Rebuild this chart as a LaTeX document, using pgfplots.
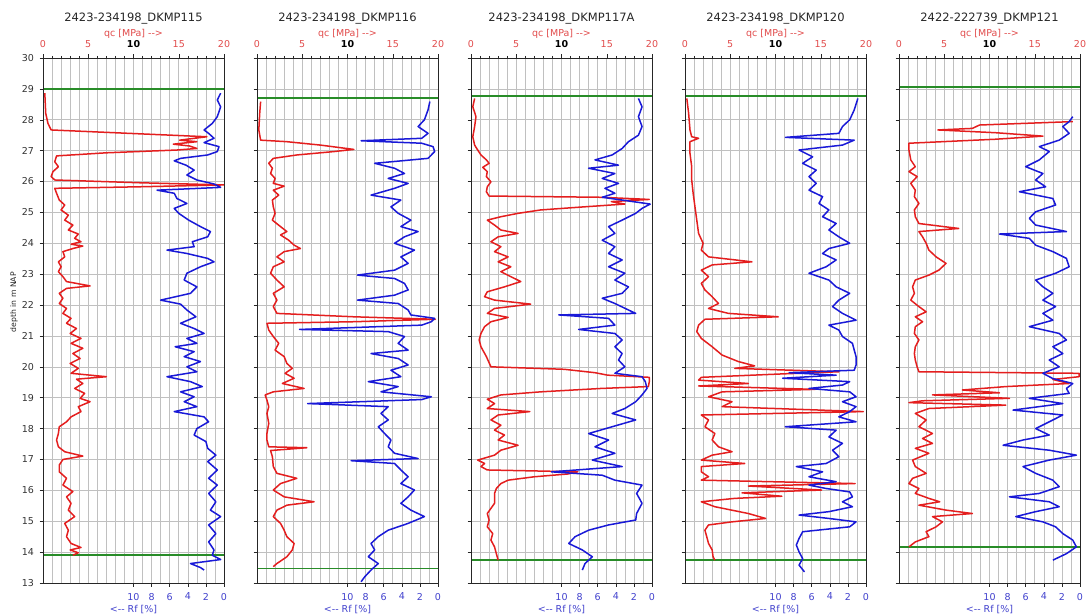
\documentclass[border=0pt]{standalone}
\usepackage{fontspec}
\setmainfont{DejaVu Sans}
\usepackage{pgfplots}
\usepackage{pgfplotstable}
\pgfplotsset{compat=1.18}

\definecolor{cptred}{RGB}{228,30,30}
\definecolor{cptblue}{RGB}{25,25,215}
\definecolor{cptgreen}{RGB}{40,140,40}
\definecolor{qclab}{RGB}{225,75,75}
\definecolor{rflab}{RGB}{65,65,205}
\definecolor{gridgray}{RGB}{192,192,192}

% ---------- Panel 1: DKMP115 ----------
\pgfplotstableread{
v d
0.2 28.86
0.3 28.21
0.55 27.88
0.9 27.67
18.1 27.45
15.1 27.34
17.0 27.29
14.4 27.21
16.2 27.15
17.0 27.07
14.8 27.02
7.0 26.93
1.5 26.83
1.3 26.64
1.7 26.48
1.1 26.32
0.9 26.16
1.3 26.05
10.7 25.96
20.0 25.89
10.7 25.83
1.3 25.78
1.5 25.62
1.8 25.40
2.4 25.24
2.0 25.08
2.8 24.91
2.4 24.75
3.3 24.59
2.8 24.43
3.9 24.30
3.5 24.16
4.2 24.05
3.1 23.97
4.4 23.91
3.3 23.83
2.2 23.73
2.4 23.56
1.7 23.40
2.0 23.24
1.7 23.08
2.2 22.92
2.6 22.76
5.2 22.62
2.6 22.54
1.8 22.38
2.2 22.22
1.8 22.05
2.6 21.89
2.2 21.73
3.1 21.57
2.6 21.41
3.7 21.24
3.0 21.08
4.2 20.92
3.1 20.76
4.4 20.60
3.3 20.43
4.1 20.27
3.0 20.11
3.9 19.95
3.1 19.79
7.0 19.68
3.7 19.60
4.4 19.46
3.5 19.30
4.6 19.14
4.1 18.98
5.2 18.87
3.9 18.71
4.2 18.55
3.1 18.38
2.6 18.22
1.8 18.06
1.7 17.84
1.5 17.63
1.7 17.41
2.4 17.25
4.4 17.11
2.2 17.00
1.8 16.82
1.8 16.60
2.6 16.39
2.2 16.17
3.3 15.96
2.6 15.79
3.1 15.58
2.8 15.36
3.5 15.15
2.4 14.93
2.8 14.71
2.6 14.50
3.1 14.28
4.2 14.15
3.0 14.07
3.9 13.98
3.3 13.90
}\qcA
\pgfplotstableread{
v d
0.37 28.86
0.74 28.64
0.37 28.42
0.74 28.10
1.3 27.88
2.2 27.67
1.7 27.56
1.1 27.40
2.2 27.26
0.55 27.13
0.74 26.97
1.8 26.86
4.8 26.75
5.5 26.67
4.2 26.53
3.3 26.37
4.1 26.21
3.0 26.05
1.1 25.92
0.37 25.81
7.4 25.72
5.5 25.62
5.2 25.45
4.1 25.29
5.5 25.13
5.0 24.97
3.9 24.75
2.6 24.54
1.5 24.38
1.8 24.21
3.5 24.05
3.3 23.89
6.3 23.78
4.1 23.67
1.8 23.51
1.1 23.40
2.6 23.24
4.1 23.03
4.4 22.81
3.0 22.59
3.7 22.38
7.0 22.16
4.8 22.03
4.1 21.84
3.1 21.62
4.8 21.41
3.3 21.24
2.2 21.08
4.1 20.92
3.0 20.76
5.4 20.65
3.3 20.49
4.4 20.33
2.6 20.17
4.1 20.00
3.0 19.84
6.3 19.68
3.7 19.52
2.4 19.36
4.8 19.19
3.3 19.03
4.4 18.87
3.0 18.71
5.5 18.55
2.2 18.38
1.7 18.22
3.0 18.00
3.3 17.79
2.0 17.58
1.8 17.36
0.9 17.14
1.8 16.93
0.74 16.66
1.7 16.39
0.74 16.17
1.7 15.90
0.9 15.63
1.5 15.36
0.37 15.15
1.7 14.88
0.9 14.60
1.7 14.33
1.1 14.07
1.3 13.90
0.37 13.76
3.7 13.63
2.6 13.50
2.2 13.42
}\rfA

% ---------- Panel 2: DKMP116 ----------
\pgfplotstableread{
v d
0.4 28.59
0.3 28.21
0.2 27.67
0.4 27.34
3.3 27.29
7.0 27.18
10.7 27.04
8.5 26.97
4.4 26.86
1.8 26.75
1.3 26.59
1.7 26.43
1.5 26.26
2.0 26.10
1.8 25.94
3.0 25.85
1.8 25.72
2.4 25.56
1.7 25.40
1.8 25.18
2.0 24.97
1.7 24.75
2.6 24.54
3.3 24.38
2.6 24.27
3.5 24.10
4.1 23.94
4.8 23.83
3.0 23.73
2.2 23.56
3.0 23.40
1.8 23.24
1.5 23.03
2.2 22.81
3.0 22.59
1.8 22.38
2.2 22.16
1.8 21.95
2.2 21.73
10.7 21.62
19.7 21.54
10.7 21.46
1.1 21.41
1.3 21.19
1.8 20.98
2.4 20.76
2.0 20.54
3.0 20.33
3.3 20.11
3.9 19.95
3.1 19.79
4.1 19.63
2.8 19.46
5.2 19.30
1.8 19.19
0.9 19.09
1.1 18.92
1.3 18.71
1.1 18.49
1.3 18.17
1.1 17.84
1.1 17.63
1.3 17.41
5.5 17.38
1.5 17.29
1.7 17.09
1.8 16.77
2.2 16.55
4.4 16.39
2.6 16.22
1.8 16.01
3.0 15.79
6.3 15.63
3.3 15.52
2.2 15.36
1.8 15.15
2.6 14.93
3.0 14.71
3.3 14.50
4.1 14.28
3.9 14.07
3.3 13.85
2.2 13.63
1.8 13.53
}\qcB
\pgfplotstableread{
v d
0.9 28.59
1.1 28.32
1.5 28.00
2.2 27.78
1.1 27.56
1.8 27.40
8.5 27.32
1.8 27.24
0.55 27.13
0.37 26.97
1.1 26.75
7.0 26.59
4.8 26.43
3.7 26.26
5.5 26.10
3.3 25.94
4.8 25.78
7.4 25.56
4.1 25.40
5.2 25.18
4.4 24.97
3.0 24.75
4.1 24.54
2.2 24.38
3.7 24.21
4.8 24.00
2.6 23.78
4.1 23.56
3.3 23.35
4.8 23.13
8.9 22.97
4.8 22.86
3.7 22.70
3.3 22.49
4.8 22.32
8.9 22.16
4.4 22.05
3.3 21.84
3.0 21.68
0.37 21.57
0.74 21.46
1.8 21.35
15.3 21.21
5.5 21.14
3.7 20.98
4.4 20.76
3.3 20.54
7.4 20.43
4.4 20.27
3.3 20.06
5.2 19.89
4.1 19.68
7.7 19.52
4.4 19.36
6.3 19.19
0.74 19.03
1.8 18.94
14.4 18.81
5.5 18.71
6.3 18.49
5.5 18.28
6.6 18.06
5.9 17.84
5.2 17.63
5.5 17.41
4.8 17.20
2.2 17.03
9.6 16.96
4.8 16.87
4.1 16.66
3.3 16.44
4.1 16.22
2.6 16.01
3.3 15.79
4.1 15.58
3.0 15.36
1.5 15.15
3.3 14.93
5.5 14.71
6.6 14.50
7.4 14.28
7.0 14.07
7.7 13.85
6.6 13.63
7.4 13.42
8.1 13.20
8.5 13.04
}\rfB

% ---------- Panel 3: DKMP117A ----------
\pgfplotstableread{
v d
0.4 28.69
0.2 28.42
0.55 28.10
0.4 27.78
0.2 27.45
0.4 27.18
0.74 27.02
1.1 26.86
1.7 26.70
2.0 26.59
1.3 26.46
1.8 26.32
1.7 26.16
2.2 25.99
1.8 25.83
1.7 25.67
2.0 25.53
14.4 25.49
19.7 25.42
15.5 25.35
17.0 25.27
12.5 25.18
7.7 25.08
5.2 24.97
3.3 24.86
1.8 24.75
2.6 24.59
3.3 24.43
5.2 24.32
3.0 24.21
2.2 24.05
3.3 23.89
2.6 23.73
4.1 23.56
3.0 23.40
4.4 23.24
3.3 23.08
4.4 22.92
5.5 22.76
3.7 22.59
1.8 22.43
1.5 22.27
2.6 22.16
6.6 22.03
2.6 21.89
1.8 21.73
4.1 21.60
2.2 21.46
1.5 21.30
1.1 21.08
0.9 20.87
1.1 20.65
1.7 20.33
2.2 20.00
10.3 19.92
13.7 19.81
15.1 19.73
19.7 19.66
19.7 19.52
19.6 19.36
14.4 19.30
7.7 19.19
3.3 19.09
1.8 18.95
2.6 18.81
1.8 18.65
6.5 18.55
3.0 18.44
2.2 18.28
3.3 18.11
2.6 17.95
3.7 17.79
3.0 17.63
5.2 17.46
3.3 17.30
2.6 17.14
0.74 16.98
1.5 16.87
1.1 16.77
1.8 16.66
11.8 16.60
10.7 16.53
7.0 16.44
4.1 16.33
3.3 16.22
2.8 16.06
2.6 15.90
2.6 15.58
1.8 15.25
2.0 15.04
1.8 14.82
2.4 14.60
2.2 14.39
2.6 14.17
2.8 13.95
3.0 13.74
}\qcC
\pgfplotstableread{
v d
1.5 28.69
1.1 28.42
1.5 28.10
1.1 27.78
1.5 27.50
2.6 27.29
3.3 27.07
4.4 26.86
6.3 26.70
3.7 26.53
7.0 26.43
4.1 26.26
5.5 26.10
3.7 25.94
5.2 25.78
4.1 25.62
5.5 25.49
3.3 25.40
0.2 25.27
1.1 25.13
1.8 24.97
3.3 24.75
4.8 24.54
4.1 24.32
5.5 24.10
4.1 23.89
4.8 23.67
3.3 23.46
4.8 23.24
3.0 23.03
4.1 22.81
2.6 22.59
3.3 22.38
5.5 22.22
4.1 22.05
2.6 21.84
1.8 21.73
10.3 21.68
4.8 21.57
4.1 21.35
8.1 21.21
4.1 21.08
3.3 20.87
4.1 20.65
3.3 20.43
3.7 20.22
3.0 20.00
4.1 19.79
1.1 19.68
0.74 19.52
0.55 19.30
1.1 19.09
1.8 18.87
3.0 18.65
4.4 18.49
1.8 18.28
4.4 18.06
7.0 17.84
4.8 17.63
6.3 17.41
4.1 17.20
6.6 16.98
3.3 16.77
11.1 16.60
5.5 16.49
4.1 16.33
1.1 16.17
1.7 15.90
1.1 15.58
1.7 15.25
1.8 15.04
4.8 14.88
7.0 14.71
8.5 14.50
9.2 14.28
7.7 14.07
6.6 13.85
7.4 13.63
7.7 13.42
}\rfC

% ---------- Panel 4: DKMP120 ----------
\pgfplotstableread{
v d
0.2 28.69
0.4 28.21
0.55 27.67
0.74 27.45
1.5 27.40
0.55 27.29
0.55 26.91
0.74 26.48
0.74 26.05
0.9 25.62
1.1 25.18
1.3 24.75
1.5 24.32
2.0 24.00
1.8 23.78
2.6 23.56
7.4 23.40
3.0 23.30
1.8 23.13
2.6 22.92
1.8 22.70
2.2 22.49
3.0 22.27
3.7 22.05
2.6 21.89
4.8 21.73
10.3 21.62
2.2 21.54
1.5 21.35
1.3 21.14
1.8 20.92
3.0 20.65
4.1 20.38
5.9 20.17
7.7 20.03
5.5 19.95
17.0 19.84
10.7 19.77
1.8 19.66
1.5 19.57
7.0 19.46
1.5 19.38
14.4 19.27
4.1 19.19
2.6 19.03
5.2 18.87
4.1 18.71
19.7 18.55
1.8 18.44
2.6 18.28
2.2 18.06
3.3 17.84
3.0 17.63
3.7 17.41
5.2 17.25
3.0 17.14
1.8 16.98
6.6 16.87
1.8 16.77
1.8 16.60
2.6 16.44
1.8 16.33
18.8 16.22
7.0 16.14
15.1 16.01
6.3 15.92
10.7 15.81
5.5 15.74
1.8 15.63
3.3 15.47
7.0 15.25
8.9 15.09
5.2 14.98
2.6 14.88
2.2 14.71
2.4 14.50
2.6 14.28
3.0 14.07
3.1 13.85
3.3 13.74
}\qcD
\pgfplotstableread{
v d
0.9 28.69
1.3 28.32
1.8 28.00
2.6 27.78
3.0 27.56
8.9 27.43
1.3 27.34
2.6 27.18
7.4 27.02
5.9 26.80
7.0 26.59
5.5 26.37
6.3 26.16
5.5 25.94
6.3 25.72
4.8 25.51
5.2 25.29
4.1 25.08
4.8 24.86
3.3 24.64
4.1 24.43
3.0 24.21
1.8 24.00
4.1 23.83
4.8 23.67
3.3 23.46
4.4 23.24
6.3 23.03
4.1 22.81
3.3 22.59
1.8 22.38
3.0 22.16
3.7 21.95
2.6 21.73
1.1 21.51
4.1 21.35
3.0 21.19
2.6 20.98
1.5 20.76
1.3 20.54
1.1 20.33
1.1 20.06
1.3 19.89
8.5 19.81
3.3 19.73
9.2 19.63
1.8 19.52
2.6 19.41
6.3 19.30
1.8 19.19
1.1 19.03
2.6 18.87
1.1 18.71
1.8 18.55
3.0 18.38
1.1 18.22
8.9 18.06
3.3 17.95
4.1 17.73
2.6 17.52
3.7 17.30
3.0 17.09
4.4 16.87
7.7 16.77
4.8 16.60
6.3 16.44
3.3 16.28
6.3 16.17
4.4 16.06
1.8 15.95
1.5 15.79
2.6 15.63
1.5 15.47
4.1 15.31
7.4 15.20
4.1 15.09
1.1 14.98
1.8 14.82
7.0 14.66
7.4 14.44
7.7 14.23
7.4 14.01
7.0 13.79
7.4 13.58
6.8 13.36
}\rfD

% ---------- Panel 5: DKMP121 ----------
\pgfplotstableread{
v d
19.2 27.94
8.9 27.83
8.1 27.72
4.3 27.67
10.7 27.58
15.9 27.47
10.7 27.37
1.1 27.24
1.1 27.02
1.3 26.70
1.8 26.48
1.1 26.32
2.0 26.16
1.3 25.94
1.8 25.72
1.7 25.51
2.2 25.29
1.7 25.08
1.8 24.86
2.2 24.64
6.6 24.48
2.2 24.38
2.6 24.21
3.0 24.00
3.3 23.78
4.1 23.56
5.2 23.35
4.4 23.13
3.3 22.97
1.8 22.81
1.5 22.59
1.7 22.38
1.3 22.16
2.2 21.95
3.0 21.78
1.8 21.62
2.6 21.46
1.8 21.30
1.7 21.08
2.2 20.87
1.8 20.65
1.7 20.43
1.8 20.22
2.0 20.00
2.2 19.84
19.9 19.79
19.9 19.68
17.0 19.59
18.8 19.46
11.8 19.36
7.0 19.25
11.1 19.16
3.7 19.09
12.2 18.98
2.6 18.90
1.1 18.84
11.8 18.76
3.3 18.65
1.8 18.49
3.0 18.28
2.2 18.06
3.7 17.84
2.6 17.68
3.7 17.52
1.8 17.36
3.3 17.20
1.5 16.98
1.8 16.77
3.0 16.55
1.5 16.39
1.1 16.22
2.2 16.06
1.8 15.90
3.3 15.74
4.5 15.63
2.2 15.52
5.2 15.36
8.1 15.25
3.7 15.15
4.8 14.98
4.1 14.82
3.0 14.66
3.3 14.50
1.8 14.33
1.1 14.17
}\qcE
\pgfplotstableread{
v d
0.8 28.10
1.2 27.94
1.9 27.78
1.2 27.56
2.3 27.34
4.5 27.13
3.4 26.97
4.5 26.70
6.0 26.48
4.1 26.26
4.9 26.05
3.8 25.83
6.7 25.67
3.0 25.45
2.7 25.24
4.9 25.02
5.6 24.81
4.9 24.59
1.5 24.38
8.9 24.30
5.6 24.16
4.9 23.94
3.0 23.73
1.5 23.51
1.2 23.24
2.7 23.03
4.9 22.81
4.1 22.59
3.0 22.38
4.1 22.16
2.7 21.95
4.1 21.73
3.0 21.51
5.6 21.30
2.3 21.08
1.5 20.87
3.0 20.65
1.9 20.43
3.4 20.22
2.3 20.00
4.1 19.79
3.0 19.62
0.8 19.46
1.5 19.30
1.2 19.14
5.6 18.98
1.9 18.81
7.4 18.60
1.9 18.44
3.4 18.22
4.9 18.00
3.4 17.79
6.3 17.63
8.5 17.46
3.4 17.30
0.4 17.14
3.4 16.98
6.3 16.77
4.9 16.55
3.0 16.33
2.3 16.12
4.5 15.90
7.8 15.79
3.4 15.63
2.3 15.47
4.9 15.31
7.1 15.15
4.1 14.98
2.7 14.82
1.9 14.60
0.8 14.39
0.4 14.17
1.5 13.95
3.0 13.74
}\rfE

\pgfplotsset{
  cptbase/.style={
    width=181pt, height=525pt, scale only axis,
    xmin=0, xmax=20, ymin=13, ymax=30,
    anchor=south west,
    tick align=outside,
    axis line style={black!85, line width=0.6pt},
    tick style={black!85, line width=0.5pt},
    major tick length=3.5pt, minor tick length=2pt,
    /pgf/number format/assume math mode=true,
  },
  qcaxis/.style={
    cptbase,
    xtick={0,5,10,15,20},
    xticklabels={0,5,{\color{black}\textbf{10}},15,20},
    minor xtick={1,2,3,4,6,7,8,9,11,12,13,14,16,17,18,19},
    xtick pos=right, xticklabel pos=right,
    ytick={13,...,30}, ytick pos=left,
    grid=both,
    major grid style={gridgray, line width=0.6pt},
    minor grid style={gridgray, line width=0.6pt},
    xticklabel style={text=qclab, font=\fontsize{9.5}{11}\selectfont, yshift=3pt},
    yticklabel style={text=black!80, font=\fontsize{9.5}{11}\selectfont, xshift=-2pt},
    xlabel={qc [MPa] -{}->},
    xlabel style={text=qclab, font=\fontsize{9.5}{11}\selectfont,
      at={(axis description cs:0.5,1)}, anchor=base, yshift=21pt},
    title style={font=\fontsize{11.5}{13}\selectfont, text=black!85,
      at={(axis description cs:0.5,1)}, anchor=base, yshift=30pt},
  },
  rfaxis/.style={
    cptbase,
    x dir=reverse,
    xtick={0,2,4,6,8,10},
    xtick pos=left, xticklabel pos=left,
    ytick=\empty,
    xticklabel style={text=rflab, font=\fontsize{9.5}{11}\selectfont, yshift=-3pt},
    xlabel={<-{}- Rf [\%]},
    xlabel style={text=rflab, font=\fontsize{9.5}{11}\selectfont,
      at={(axis description cs:0.5,0)}, anchor=north, yshift=-19pt},
  },
  qcline/.style={cptred, line width=1.5pt, line join=round},
  rfline/.style={cptblue, line width=1.5pt, line join=round},
  gline/.style={cptgreen, line width=1.8pt},
}

\begin{document}
\begin{tikzpicture}
\useasboundingbox (0,0) rectangle (1086pt,613pt);

% Panel 1
\begin{axis}[qcaxis, at={(43pt,30pt)}, title={2423-234198\_DKMP115},
  ylabel={depth in m NAP},
  ylabel style={font=\fontsize{7.7}{9}\selectfont, text=black!85,
    at={(axis description cs:-0.16,0.535)}, anchor=center}]
\addplot[gline] coordinates {(0,29.0) (20,29.0)};
\addplot[gline] coordinates {(0,13.9) (20,13.9)};
\addplot[qcline] table[x=v,y=d] {\qcA};
\end{axis}
\begin{axis}[rfaxis, at={(43pt,30pt)}]
\addplot[rfline] table[x=v,y=d] {\rfA};
\end{axis}

% Panel 2
\begin{axis}[qcaxis, at={(257pt,30pt)}, title={2423-234198\_DKMP116}, yticklabels={}]
\addplot[gline] coordinates {(0,28.7) (20,28.7)};
\addplot[gline] coordinates {(0,13.47) (20,13.47)};
\addplot[qcline] table[x=v,y=d] {\qcB};
\end{axis}
\begin{axis}[rfaxis, at={(257pt,30pt)}]
\addplot[rfline] table[x=v,y=d] {\rfB};
\end{axis}

% Panel 3
\begin{axis}[qcaxis, at={(471pt,30pt)}, title={2423-234198\_DKMP117A}, yticklabels={}]
\addplot[gline] coordinates {(0,28.78) (20,28.78)};
\addplot[gline] coordinates {(0,13.74) (20,13.74)};
\addplot[qcline] table[x=v,y=d] {\qcC};
\end{axis}
\begin{axis}[rfaxis, at={(471pt,30pt)}]
\addplot[rfline] table[x=v,y=d] {\rfC};
\end{axis}

% Panel 4
\begin{axis}[qcaxis, at={(685pt,30pt)}, title={2423-234198\_DKMP120}, yticklabels={}]
\addplot[gline] coordinates {(0,28.78) (20,28.78)};
\addplot[gline] coordinates {(0,13.74) (20,13.74)};
\addplot[qcline] table[x=v,y=d] {\qcD};
\end{axis}
\begin{axis}[rfaxis, at={(685pt,30pt)}]
\addplot[rfline] table[x=v,y=d] {\rfD};
\end{axis}

% Panel 5
\begin{axis}[qcaxis, at={(899pt,30pt)}, title={2422-222739\_DKMP121}, yticklabels={}]
\addplot[gline] coordinates {(0,29.07) (20,29.07)};
\addplot[gline] coordinates {(0,14.17) (20,14.17)};
\addplot[qcline] table[x=v,y=d] {\qcE};
\end{axis}
\begin{axis}[rfaxis, at={(899pt,30pt)}]
\addplot[rfline] table[x=v,y=d] {\rfE};
\end{axis}
\end{tikzpicture}
\end{document}
